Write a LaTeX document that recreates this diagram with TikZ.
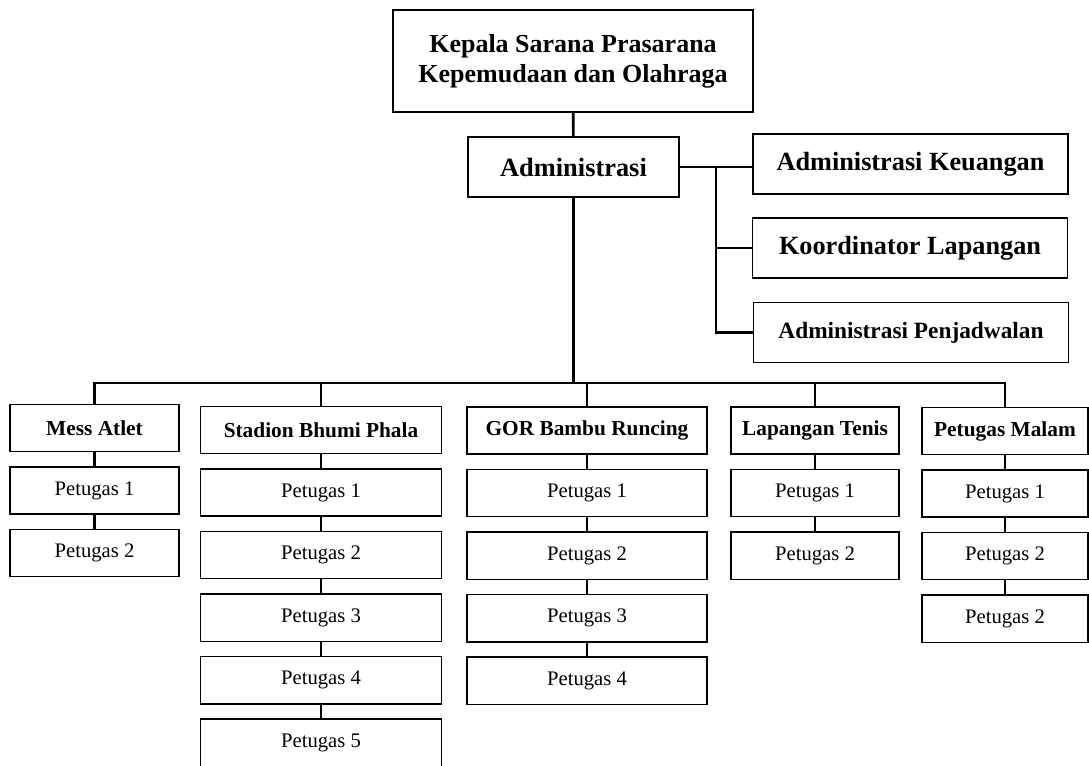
\documentclass[tikz,border=0pt]{standalone}
\usepackage{fontspec}
\setmainfont{Liberation Serif}

\begin{document}
\begin{tikzpicture}[x=0.75pt, y=-0.75pt, node distance=46.9pt]
\tikzstyle{box} = [draw, rectangle, line width=1.1pt, inner sep=0pt, align=center]
\tikzstyle{head} = [box, line width=1.4pt, minimum width=270pt, minimum height=76.5pt, font=\fontsize{19.5}{22.5}\selectfont\bfseries]
\tikzstyle{admin} = [box, minimum width=158pt, minimum height=45pt, font=\fontsize{19.8}{23}\selectfont\bfseries]
\tikzstyle{side} = [box, minimum width=236pt, minimum height=45pt, font=\fontsize{19.7}{23}\selectfont\bfseries]
\tikzstyle{unit} = [box, minimum height=35pt, font=\fontsize{16}{19}\selectfont\bfseries]
\tikzstyle{staff} = [box, minimum height=35.5pt, font=\fontsize{15.5}{18}\selectfont]
\tikzstyle{line} = [draw, line width=2pt]

\useasboundingbox (0,0) rectangle (1089,765);

    % We start by placing the top of the chart
    \node [head] (kepala) at (573,61) {Kepala Sarana Prasarana\\Kepemudaan dan Olahraga};
    \node [admin] (admin) at (573.5,167) {Administrasi};
    \node [side] (keuangan) at (910.5,164) {Administrasi Keuangan};
    \node [side] (koordinator) at (910,248) {Koordinator Lapangan};
    \node [side, font=\fontsize{17.5}{21}\selectfont\bfseries] (penjadwalan) at (911,332.5) {Administrasi Penjadwalan};
    \coordinate (spine) at (716,167);
    \coordinate (bus) at (573.5,383);

    % then the five units with their staff below them
    \node [unit, minimum width=127pt] (mess) at (94.5,428) {Mess Atlet};
    \node [staff, minimum width=127pt, below of=mess] (mess1) {Petugas 1};
    \node [staff, minimum width=127pt, below of=mess1] (mess2) {Petugas 2};

    \node [unit, minimum width=181pt] (stadion) at (321,430) {Stadion Bhumi Phala};
    \node [staff, minimum width=181pt, below of=stadion] (stadion1) {Petugas 1};
    \node [staff, minimum width=181pt, below of=stadion1] (stadion2) {Petugas 2};
    \node [staff, minimum width=181pt, below of=stadion2] (stadion3) {Petugas 3};
    \node [staff, minimum width=181pt, below of=stadion3] (stadion4) {Petugas 4};
    \node [staff, minimum width=181pt, below of=stadion4] (stadion5) {Petugas 5};

    \node [unit, minimum width=180pt] (gor) at (587,430.5) {GOR Bambu Runcing};
    \node [staff, minimum width=180pt, below of=gor] (gor1) {Petugas 1};
    \node [staff, minimum width=180pt, below of=gor1] (gor2) {Petugas 2};
    \node [staff, minimum width=180pt, below of=gor2] (gor3) {Petugas 3};
    \node [staff, minimum width=180pt, below of=gor3] (gor4) {Petugas 4};

    \node [unit, minimum width=126pt] (tenis) at (815,430.5) {Lapangan Tenis};
    \node [staff, minimum width=126pt, below of=tenis] (tenis1) {Petugas 1};
    \node [staff, minimum width=126pt, below of=tenis1] (tenis2) {Petugas 2};

    \node [unit, minimum width=124.5pt] (malam) at (1005,431) {Petugas Malam};
    \node [staff, minimum width=124.5pt, below of=malam] (malam1) {Petugas 1};
    \node [staff, minimum width=124.5pt, below of=malam1] (malam2) {Petugas 2};
    \node [staff, minimum width=124.5pt, below of=malam2] (malam3) {Petugas 2};

    % Once the nodes are placed, connecting them is easy.
    \draw [line] (kepala) -- (admin);
    \draw [line] (admin) -- (admin -| keuangan.west);
    \draw [line] (spine) |- (koordinator);
    \draw [line] (spine) |- (penjadwalan);
    \draw [line] (admin) -- (bus);
    \draw [line] (mess) |- (bus) -| (malam);
    \draw [line] (stadion) -- (stadion |- bus);
    \draw [line] (gor) -- (gor |- bus);
    \draw [line] (tenis) -- (tenis |- bus);

    \draw [line] (mess) -- (mess1) -- (mess2);
    \draw [line] (stadion) -- (stadion1) -- (stadion2) -- (stadion3) -- (stadion4) -- (stadion5);
    \draw [line] (gor) -- (gor1) -- (gor2) -- (gor3) -- (gor4);
    \draw [line] (tenis) -- (tenis1) -- (tenis2);
    \draw [line] (malam) -- (malam1) -- (malam2) -- (malam3);

\end{tikzpicture}
\end{document}
